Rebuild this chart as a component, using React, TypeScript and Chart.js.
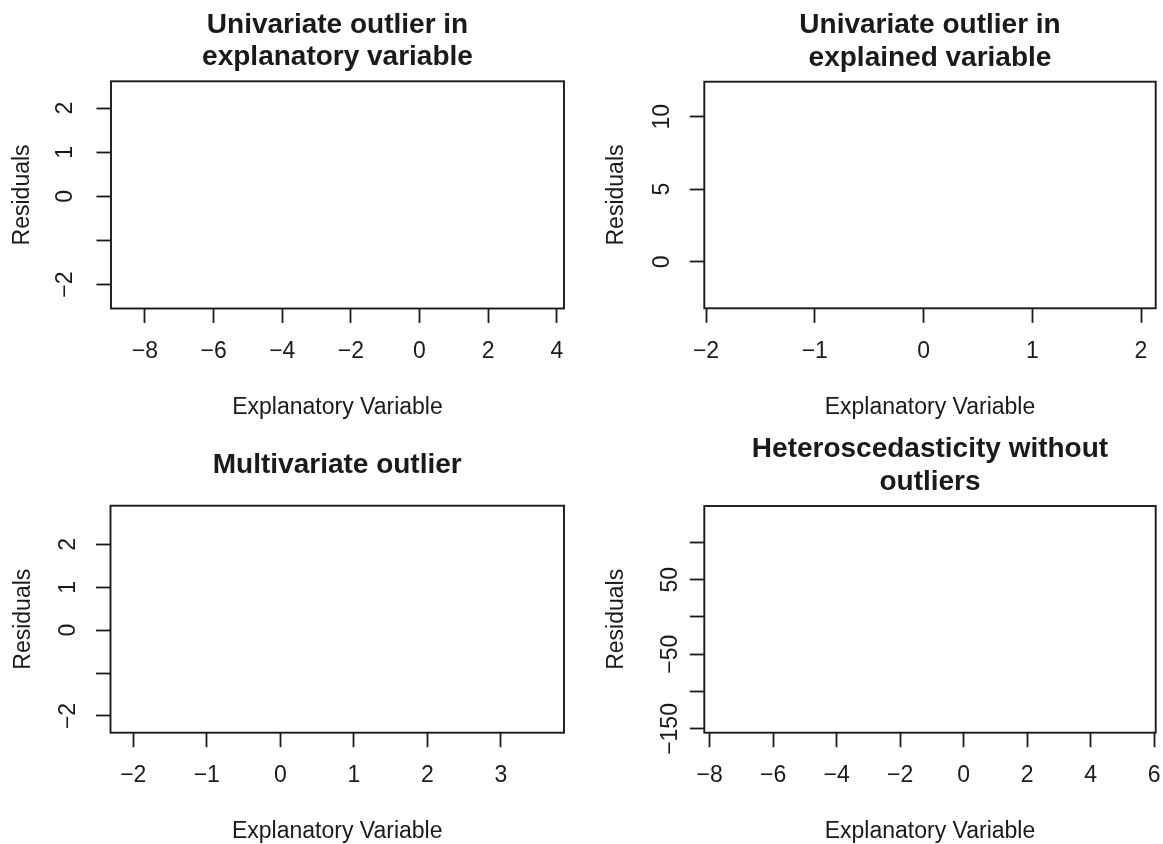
import React, { useEffect, useRef } from "react";
import { Chart, registerables } from "chart.js";

Chart.register(...registerables);

// ---------- data ----------
const panelTitles: string[][] = [
  ["Univariate outlier in", "explanatory variable"],
  ["Univariate outlier in", "explained variable"],
  ["Multivariate outlier"],
  ["Heteroscedasticity without", "outliers"],
];
const xAxisTitle = "Explanatory Variable";
const yAxisTitle = "Residuals";

const xLimits: number[][] = [
  [-8.99, 4.21],
  [-2.016, 2.135],
  [-2.31, 3.86],
  [-8.17, 6.05],
];
const yLimits: number[][] = [
  [-2.54, 2.61],
  [-3.21, 12.41],
  [-2.39, 2.9],
  [-155, 148.6],
];
const xTicks: number[][] = [
  [-8, -6, -4, -2, 0, 2, 4],
  [-2, -1, 0, 1, 2],
  [-2, -1, 0, 1, 2, 3],
  [-8, -6, -4, -2, 0, 2, 4, 6],
];
const yTicks: number[][] = [
  [-2, -1, 0, 1, 2],
  [0, 5, 10],
  [-2, -1, 0, 1, 2],
  [-150, -100, -50, 0, 50, 100],
];
const yTickLabels: string[][] = [
  ["−2", "", "0", "1", "2"],
  ["0", "5", "10"],
  ["−2", "", "0", "1", "2"],
  ["−150", "", "−50", "", "50", ""],
];

// ---------- layout / style ----------
const INK = "#1a1a1a";
const FAMILY = '"Liberation Sans", Arial, Helvetica, sans-serif';
const BASE = 23;
const TITLE_SIZE = 28;
const TICK_LEN = 14.5;

const panels = [
  { left: 0, top: 0, width: 581, height: 422, box: [111, 81.3, 564, 308.5], yLabelOff: 45, yTitleX: 23 },
  { left: 581, top: 0, width: 582, height: 422, box: [123.3, 81.7, 574.7, 308.3], yLabelOff: 42, yTitleX: 36 },
  { left: 0, top: 422, width: 581, height: 422, box: [110.5, 83.7, 564, 310.7], yLabelOff: 42, yTitleX: 24 },
  { left: 581, top: 422, width: 582, height: 422, box: [123.3, 84, 574.7, 310.7], yLabelOff: 33.5, yTitleX: 36 },
];

const fmt = (v: number) => (v < 0 ? "−" + Math.abs(v) : String(v));

function measure(text: string, font: string): number {
  const c = document.createElement("canvas").getContext("2d")!;
  c.font = font;
  return c.measureText(text).width;
}

function Panel({ idx }: { idx: number }) {
  const ref = useRef<HTMLCanvasElement | null>(null);
  const p = panels[idx];

  useEffect(() => {
    const canvas = ref.current;
    if (!canvas) return;
    const [bl, bt, br, bb] = p.box;
    const tickFont = `${BASE}px ${FAMILY}`;
    const widest = Math.max(...yTickLabels[idx].map((s) => measure(s, tickFont)));
    const yTickPad = p.yLabelOff - TICK_LEN - widest / 2;
    const xTickPad = 43 - TICK_LEN - (BASE * 1.2) / 2;
    const xTitlePadBottom = p.height - BASE / 2 - (bb + 99);
    const yTitlePadTop = p.yTitleX - BASE / 2;
    const titleLines = panelTitles[idx];

    const framePlugin = {
      id: "rframe",
      afterDraw(chart: any) {
        const { ctx, chartArea: a } = chart;
        ctx.save();
        ctx.strokeStyle = INK;
        ctx.lineWidth = 1.9;
        ctx.strokeRect(a.left, a.top, a.right - a.left, a.bottom - a.top);
        ctx.fillStyle = INK;
        ctx.font = `bold ${TITLE_SIZE}px ${FAMILY}`;
        ctx.textAlign = "center";
        ctx.textBaseline = "alphabetic";
        const cx = (a.left + a.right) / 2;
        const n = titleLines.length;
        const mid = a.top - 32.4;
        titleLines.forEach((line, i) => {
          ctx.fillText(line, cx, mid + (i - (n - 1) / 2) * 32.5);
        });
        ctx.restore();
      },
    };

    const chart = new Chart(canvas, {
      type: "scatter",
      data: { datasets: [{ data: [], pointRadius: 0 }] },
      options: {
        responsive: false,
        animation: false,
        devicePixelRatio: 1,
        events: [],
        layout: { padding: { left: 0, top: bt, right: p.width - br, bottom: 0 } },
        plugins: { legend: { display: false }, title: { display: false }, tooltip: { enabled: false } },
        scales: {
          x: {
            type: "linear",
            position: "bottom",
            min: xLimits[idx][0],
            max: xLimits[idx][1],
            bounds: "data",
            afterBuildTicks: (s: any) => {
              s.ticks = xTicks[idx].map((v) => ({ value: v }));
            },
            afterFit: (s: any) => {
              s.height = p.height - bb;
              s.paddingLeft = 0;
              s.paddingRight = 0;
            },
            grid: {
              display: true,
              drawOnChartArea: false,
              drawTicks: true,
              tickLength: TICK_LEN,
              tickWidth: 1.8,
              tickColor: INK,
            },
            border: { display: false },
            ticks: {
              autoSkip: false,
              maxRotation: 0,
              minRotation: 0,
              padding: xTickPad,
              color: INK,
              font: { family: FAMILY, size: BASE },
              callback: (v: any) => fmt(Number(v)),
            },
            title: {
              display: true,
              text: xAxisTitle,
              color: INK,
              font: { family: FAMILY, size: BASE, lineHeight: 1 },
              padding: { top: 0, bottom: xTitlePadBottom },
            },
          },
          y: {
            type: "linear",
            position: "left",
            min: yLimits[idx][0],
            max: yLimits[idx][1],
            bounds: "data",
            afterBuildTicks: (s: any) => {
              s.ticks = yTicks[idx].map((v) => ({ value: v }));
            },
            afterFit: (s: any) => {
              s.width = bl;
              s.paddingTop = 0;
              s.paddingBottom = 0;
            },
            grid: {
              display: true,
              drawOnChartArea: false,
              drawTicks: true,
              tickLength: TICK_LEN,
              tickWidth: 1.8,
              tickColor: INK,
            },
            border: { display: false },
            ticks: {
              autoSkip: false,
              minRotation: 90,
              maxRotation: 90,
              crossAlign: "center",
              padding: yTickPad,
              color: INK,
              font: { family: FAMILY, size: BASE },
              callback: (_v: any, i: number) => yTickLabels[idx][i],
            },
            title: {
              display: true,
              text: yAxisTitle,
              color: INK,
              font: { family: FAMILY, size: BASE, lineHeight: 1 },
              padding: { top: yTitlePadTop, bottom: 0 },
            },
          },
        },
      } as any,
      plugins: [framePlugin],
    });
    return () => chart.destroy();
  }, [idx]);

  return (
    <canvas
      ref={ref}
      width={p.width}
      height={p.height}
      style={{ position: "absolute", left: p.left, top: p.top, width: p.width, height: p.height, display: "block" }}
    />
  );
}

export default function App() {
  return (
    <div style={{ position: "absolute", left: 0, top: 0, width: 1163, height: 844, background: "#ffffff", overflow: "hidden" }}>
      {panels.map((_, i) => (
        <Panel key={i} idx={i} />
      ))}
    </div>
  );
}
